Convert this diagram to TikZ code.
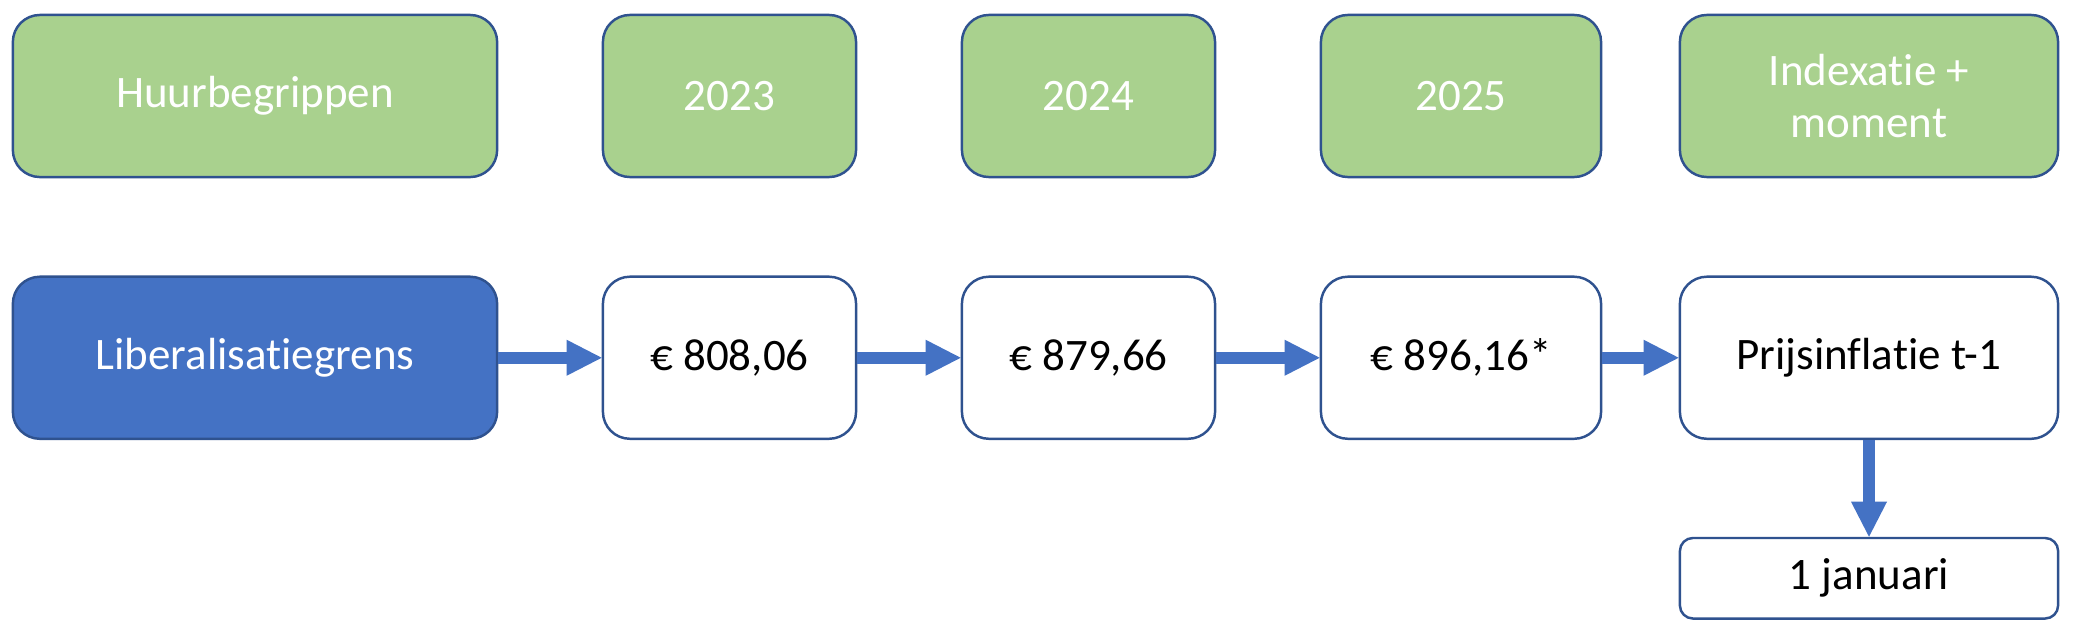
\documentclass[tikz,border=0pt]{standalone}
\usepackage{fontspec}
\setmainfont{Carlito}[Ligatures=NoCommon]
\usetikzlibrary{arrows.meta}
\definecolor{kopgroen}{HTML}{A9D18E}
\definecolor{randblauw}{HTML}{2F528F}
\definecolor{vulblauw}{HTML}{4472C4}

\begin{document}
\begin{tikzpicture}[x=0.01cm,y=-0.01cm,thick,
    box/.style={draw=randblauw,line width=0.7pt,rounded corners=0.27cm,minimum height=1.62cm,inner sep=0pt,align=center,font=\fontsize{12.8}{14.8}\selectfont},
    kop/.style={box,fill=kopgroen,text=white},
    grens/.style={box,fill=vulblauw,text=white},
    waarde/.style={box,fill=white,text=black},
    pijl/.style={color=vulblauw,line width=0.12cm,-{Triangle[width=0.36cm,length=0.35cm,line width=0pt,fill=vulblauw]}}]

                    \useasboundingbox (0,0) rectangle (2078,633);

                    \node[kop, minimum width=4.84cm] (hb) at (255,96) {Huurbegrippen};
                    \node[kop, minimum width=2.53cm] (j23) at (729.5,96) {2023};
                    \node[kop, minimum width=2.53cm] (j24) at (1088.5,96) {2024};
                    \node[kop, minimum width=2.80cm] (j25) at (1461,96) {2025};
                    \node[kop, minimum width=3.78cm] (idx) at (1869,96) {Indexatie +\\moment};

                    \node[grens, minimum width=4.84cm] (lib) at (255,357.75) {Liberalisatiegrens};
                    \node[waarde, minimum width=2.53cm] (w23) at (729.5,357.75) {€ 808,06};
                    \node[waarde, minimum width=2.53cm] (w24) at (1088.5,357.75) {€ 879,66};
                    \node[waarde, minimum width=2.80cm] (w25) at (1461,357.75) {€ 896,16*};
                    \node[waarde, minimum width=3.78cm] (pi) at (1869,357.75) {Prijsinflatie t-1};

                    \node[waarde, minimum width=3.78cm, minimum height=0.805cm, rounded corners=0.13cm] (jan) at (1869,578.25) {1 januari};

                    \path[pijl]
                        (lib) edge (w23)
                        (w23) edge (w24)
                        (w24) edge (w25)
                        (w25) edge (pi)
                        (pi) edge (jan)
                        ;
                \end{tikzpicture}
\end{document}
